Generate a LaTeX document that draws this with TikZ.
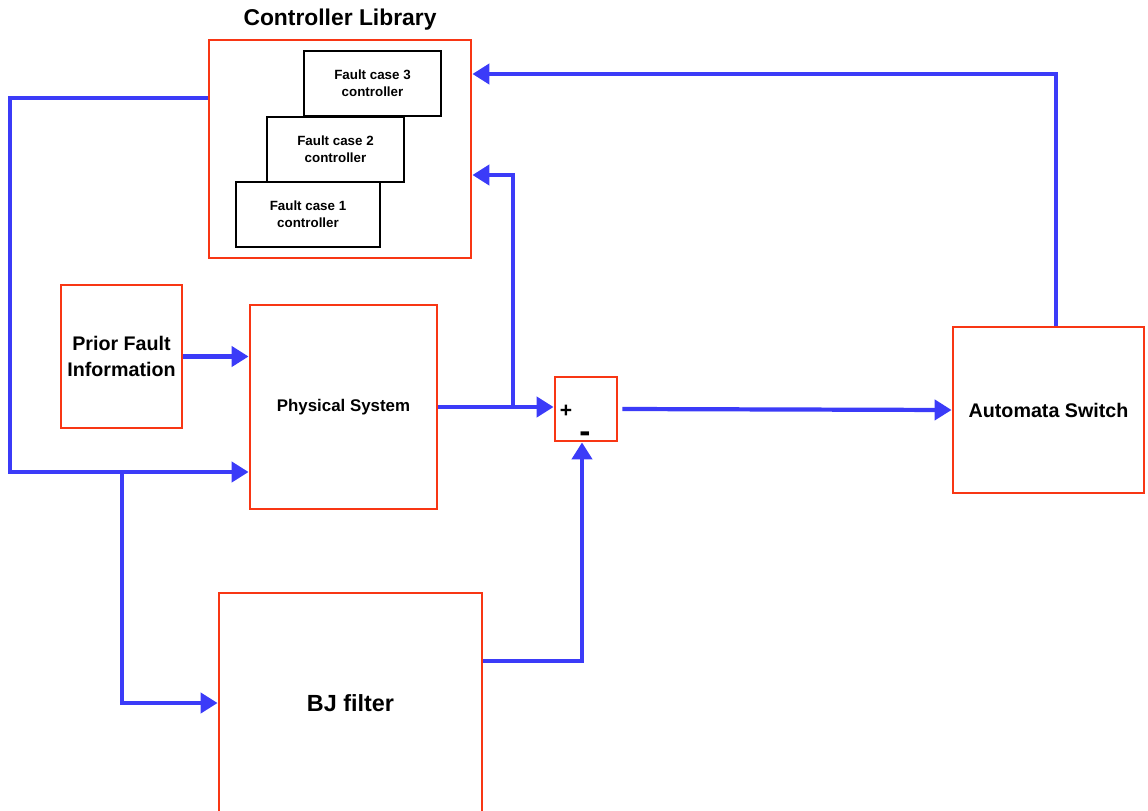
\documentclass[tikz,border=0pt]{standalone}
\usepackage{fontspec}
\setmainfont{Liberation Sans}
\usetikzlibrary{arrows.meta}
\definecolor{blockred}{HTML}{F83614}
\definecolor{sigblue}{HTML}{3B3BF8}

\begin{document}
\begin{tikzpicture}[
    block/.style={draw=blockred, line width=1.6pt, inner sep=0pt, align=center, font=\bfseries},
    ctrl/.style={draw=black, line width=1.1pt, fill=white, inner sep=0pt, align=center,
      minimum height=1.30cm, font=\fontsize{7.6}{9.6}\selectfont\bfseries},
    flow/.style={sigblue, line width=2.4pt, -{Triangle[length=0.34cm, width=0.4cm]}}
  ]
  \useasboundingbox (0,0) rectangle (22.96,-16.2);

  % controller library
  \node[block, minimum width=5.24cm, minimum height=4.36cm] (lib) at (6.80,-2.98) {};
  \node[font=\fontsize{13}{15}\selectfont\bfseries] (libtitle) at (6.80,-0.40) {Controller Library};
  \node[ctrl, minimum width=2.74cm] (fc3) at (7.45,-1.67) {Fault case 3\\controller};
  \node[ctrl, minimum width=2.74cm] (fc2) at (6.71,-2.99) {Fault case 2\\controller};
  \node[ctrl, minimum width=2.88cm] (fc1) at (6.16,-4.29) {Fault case 1\\controller};

  % blocks
  \node[block, minimum width=2.42cm, minimum height=2.86cm, font=\fontsize{11.2}{14.7}\selectfont\bfseries]
    (prior) at (2.43,-7.13) {Prior Fault\\Information};
  \node[block, minimum width=3.74cm, minimum height=4.08cm, font=\fontsize{9.6}{11}\selectfont\bfseries]
    (phys) at (6.87,-8.14) {Physical System};
  \node[block, minimum width=1.24cm, minimum height=1.28cm] (sum) at (11.72,-8.18) {};
  \node[font=\fontsize{12}{14}\selectfont\bfseries] (plus) at (11.32,-8.22) {+};
  \node[font=\fontsize{19}{21}\selectfont\bfseries] (minus) at (11.70,-8.74) {-};
  \node[block, minimum width=3.82cm, minimum height=3.32cm, font=\fontsize{11.2}{14}\selectfont\bfseries]
    (auto) at (20.97,-8.20) {Automata Switch};
  \node[block, minimum width=5.26cm, minimum height=4.40cm, font=\fontsize{13.3}{16}\selectfont\bfseries]
    (bj) at (7.01,-14.06) {BJ filter};

  % signal lines
  \coordinate (bus) at (0.20,-9.44);
  \coordinate (split) at (2.44,-9.44);
  \coordinate (fb) at (10.26,-8.12);
  \draw[flow] ([yshift=1.02cm]lib.west) -| (bus) -- (bus -| phys.west);
  \draw[flow] (split) |- (bj.west);
  \draw[flow] (prior.east) -- (prior.east -| phys.west);
  \draw[flow] (phys.east) -- (phys.east -| sum.west);
  \draw[flow] (fb) |- ([yshift=-0.52cm]lib.east);
  \draw[flow] ([xshift=0.08cm]sum.east) -- (auto.west);
  \draw[flow] ([xshift=0.15cm]auto.north) |- ([yshift=1.50cm]lib.east);
  \draw[flow] ([yshift=0.84cm]bj.east) -| ([xshift=-0.08cm]sum.south);
\end{tikzpicture}
\end{document}
